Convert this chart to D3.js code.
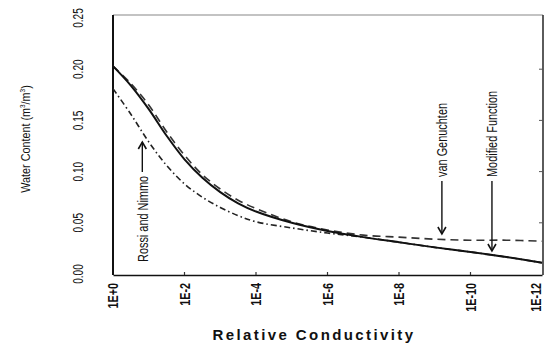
<!DOCTYPE html>
<html><head><meta charset="utf-8">
<script src="https://cdn.jsdelivr.net/npm/d3@7"></script>
<style>
html,body{margin:0;padding:0;background:#fff;}
svg{display:block;}
text{font-family:"Liberation Sans",Arial,sans-serif;}
</style></head>
<body>
<svg id="chart" width="546" height="343"></svg>
<script>
// ---- data ----
const logK = [0,-0.5,-1,-1.5,-2,-2.5,-3,-3.5,-4,-5,-6,-7,-8,-9,-10,-11,-12];
const modifiedFunction = [0.203,0.184,0.161,0.135,0.112,0.094,0.080,0.069,0.061,0.050,0.042,0.036,0.031,0.026,0.0215,0.0166,0.011];
const vanGenuchten     = [0.203,0.186,0.165,0.139,0.116,0.097,0.083,0.072,0.064,0.051,0.043,0.038,0.036,0.034,0.033,0.033,0.032];
const rossiNimmo       = [0.181,0.156,0.129,0.106,0.088,0.075,0.065,0.057,0.051,0.045,0.040,0.036,0.031,0.026,0.0215,0.0166,0.011];
const xTickValues = [0,-2,-4,-6,-8,-10,-12];
const xTickLabels = ["1E+0","1E-2","1E-4","1E-6","1E-8","1E-10","1E-12"];
const yTickValues = [0,0.05,0.10,0.15,0.20,0.25];
const yTickLabels = ["0.00","0.05","0.10","0.15","0.20","0.25"];
const annotations = [
  {text:"Rossi and Nimmo", k:-0.82, dir:"up"},
  {text:"van Genuchten", k:-9.2, dir:"down"},
  {text:"Modified Function", k:-10.6, dir:"down"}
];

// ---- layout ----
const svg = d3.select("#chart");
const L=113, R=542, T=15, B=275;
const x = d3.scaleLinear().domain([0,-12]).range([L,R]);
const y = d3.scaleLinear().domain([0,0.25]).range([274,18]);

// rotated, horizontally condensed text helper
function vtext(px,py,str,opt){
  const t = svg.append("text")
    .attr("transform",`translate(${px},${py}) rotate(-90) scale(${opt.sx},1)`)
    .attr("text-anchor",opt.anchor).attr("dy","0.35em")
    .attr("font-size",opt.size).attr("fill","#111");
  if(opt.bold) t.attr("font-weight","bold");
  t.text(str);
  return t;
}

// frame: top & right border
svg.append("line").attr("x1",L).attr("x2",R+1).attr("y1",T).attr("y2",T).attr("stroke","#888").attr("stroke-width",1.2);
svg.append("line").attr("x1",R+1).attr("x2",R+1).attr("y1",T).attr("y2",B).attr("stroke","#333").attr("stroke-width",1.6);

// bottom axis with inner ticks
const xAxis = d3.axisBottom(x).tickValues(xTickValues).tickSize(0).tickFormat("");
const gx = svg.append("g").attr("transform",`translate(0,${B})`).call(xAxis);
gx.select(".domain").attr("stroke","#111").attr("stroke-width",1.6);
svg.selectAll(".xt").data(xTickValues.slice(1,-1)).enter().append("line")
  .attr("x1",d=>x(d)).attr("x2",d=>x(d)).attr("y1",B).attr("y2",B-3).attr("stroke","#333").attr("stroke-width",1.2);
xTickValues.forEach((d,i)=>{
  vtext(Math.min(x(d),536),283,xTickLabels[i],{sx:0.72,size:15,bold:true,anchor:"end"});
});

// left axis
const yAxis = d3.axisLeft(y).tickValues(yTickValues).tickSize(0).tickFormat("");
const gy = svg.append("g").attr("transform",`translate(${L},0)`).call(yAxis);
gy.select(".domain").attr("stroke","#111").attr("stroke-width",2).attr("d",`M0,${T}V${B}`);
svg.selectAll(".yt").data(yTickValues.slice(1,-1)).enter().append("line")
  .attr("x1",R+1).attr("x2",R-3).attr("y1",d=>y(d)).attr("y2",d=>y(d)).attr("stroke","#555").attr("stroke-width",1);
yTickValues.forEach((d,i)=>{
  vtext(78,y(d),yTickLabels[i],{sx:0.72,size:14,anchor:"middle"});
});

// axis titles
const yt = vtext(25,139,"",{sx:0.8,size:13.5,anchor:"middle"});
yt.html("Water Content (m<tspan dy='-5' font-size='8'>3</tspan><tspan dy='5'>/m</tspan><tspan dy='-5' font-size='8'>3</tspan><tspan dy='5'>)</tspan>");
svg.append("text").attr("x",314).attr("y",335).attr("text-anchor","middle").attr("dy","0.35em")
  .attr("font-size",15).attr("font-weight","bold")
  .attr("letter-spacing",2.4).attr("fill","#111").text("Relative Conductivity");

// curves
const line = d3.line().x((d,i)=>x(logK[i])).y(d=>y(d)).curve(d3.curveCatmullRom.alpha(0.5));
svg.append("path").datum(rossiNimmo).attr("d",line).attr("fill","none").attr("stroke","#222")
  .attr("stroke-width",1.6).attr("stroke-dasharray","6,3,1.5,3");
svg.append("path").datum(vanGenuchten).attr("d",line).attr("fill","none").attr("stroke","#333")
  .attr("stroke-width",1.6).attr("stroke-dasharray","8,5");
svg.append("path").datum(modifiedFunction).attr("d",line).attr("fill","none").attr("stroke","#111")
  .attr("stroke-width",2);

// annotations
function arrow(x0,y0,y1){
  svg.append("line").attr("x1",x0).attr("x2",x0).attr("y1",y0).attr("y2",y1).attr("stroke","#111").attr("stroke-width",1.4);
  const s = y1<y0 ? 1 : -1;
  svg.append("path").attr("d",`M${x0-4},${y1+s*7}L${x0},${y1}L${x0+4},${y1+s*7}`)
    .attr("fill","none").attr("stroke","#111").attr("stroke-width",1.6);
}
const a0=annotations[0];
vtext(x(a0.k)+1,262,a0.text,{sx:0.78,size:14,anchor:"start"});
arrow(x(a0.k),172,142);
const a1=annotations[1];
vtext(x(a1.k),177,a1.text,{sx:0.78,size:14,anchor:"start"});
arrow(x(a1.k),181,234);
const a2=annotations[2];
vtext(x(a2.k),177,a2.text,{sx:0.78,size:14,anchor:"start"});
arrow(x(a2.k),181,251);
</script>
</body></html>
